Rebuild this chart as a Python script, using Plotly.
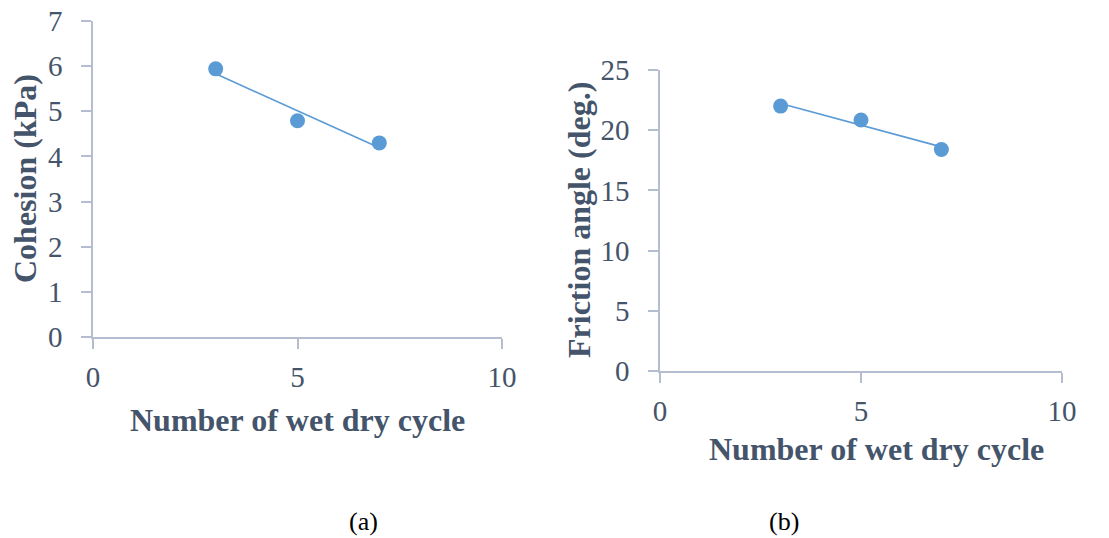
import numpy as np
import plotly.graph_objects as go

# Shear strength parameters after repeated wetting/drying
cycles = [3, 5, 7]
cohesion_kpa = [5.94, 4.79, 4.30]
friction_deg = [22.0, 20.85, 18.4]

x_ticks = [0, 5, 10]
cohesion_ticks = [0, 1, 2, 3, 4, 5, 6, 7]
friction_ticks = [0, 5, 10, 15, 20, 25]

MARKER = "#5B9BD5"
TEXT = "#44546A"
AXIS = "#B4BED0"
SERIF = "Liberation Serif, Times New Roman, serif"


def linear_fit(x, y):
    slope, intercept = np.polyfit(x, y, 1)
    xs = np.array([min(x), max(x)])
    return xs, slope * xs + intercept


fig = go.Figure()

for xa, ya, yv in (("x", "y", cohesion_kpa), ("x2", "y2", friction_deg)):
    fx, fy = linear_fit(cycles, yv)
    fig.add_trace(go.Scatter(x=fx, y=fy, mode="lines", xaxis=xa, yaxis=ya,
                             line=dict(color=MARKER, width=1.6),
                             showlegend=False, hoverinfo="skip"))
    fig.add_trace(go.Scatter(x=cycles, y=yv, mode="markers", xaxis=xa, yaxis=ya,
                             marker=dict(color=MARKER, size=15),
                             showlegend=False))

W, H = 1109, 538


def px_x(p):
    return p / W


def px_y(p):
    return 1 - p / H


axis_common = dict(
    showgrid=False, zeroline=False, showline=True, linecolor=AXIS, linewidth=1.6,
    ticks="outside", ticklen=10, tickcolor=AXIS, tickwidth=1.6, automargin=False,
    tickfont=dict(family=SERIF, size=29, color=TEXT),
)

TITLE_FONT = dict(family=SERIF, size=32, color=TEXT)
LABEL_FONT = dict(family=SERIF, size=26, color="black")


def note(text, x, y, font, angle=0):
    return dict(text=text, x=px_x(x), y=px_y(y), xref="paper", yref="paper",
                xanchor="center", yanchor="middle", showarrow=False,
                textangle=angle, font=font)


fig.update_layout(
    width=W, height=H,
    margin=dict(l=0, r=0, t=0, b=0),
    paper_bgcolor="white", plot_bgcolor="white",
    xaxis=dict(domain=[px_x(93), px_x(502)], range=[0, 10], tickvals=x_ticks,
               anchor="y", ticklabelstandoff=3, **axis_common),
    yaxis=dict(domain=[px_y(337), px_y(21)], range=[0, 7], tickvals=cohesion_ticks,
               anchor="x", ticklabelstandoff=13, **axis_common),
    xaxis2=dict(domain=[px_x(660), px_x(1062)], range=[0, 10], tickvals=x_ticks,
                anchor="y2", ticklabelstandoff=3, **axis_common),
    yaxis2=dict(domain=[px_y(371), px_y(70)], range=[0, 25], tickvals=friction_ticks,
                anchor="x2", ticklabelstandoff=13, **axis_common),
    annotations=[
        note("<b>Number of wet dry cycle</b>", 297, 420, TITLE_FONT),
        note("<b>Cohesion (kPa)</b>", 25, 179, TITLE_FONT, angle=-90),
        note("<b>Number of wet dry cycle</b>", 876, 449, TITLE_FONT),
        note("<b>Friction angle (deg.)</b>", 579, 220, TITLE_FONT, angle=-90),
        note("(a)", 363, 521, LABEL_FONT),
        note("(b)", 784, 521, LABEL_FONT),
    ],
)

fig.write_html("out.html")
